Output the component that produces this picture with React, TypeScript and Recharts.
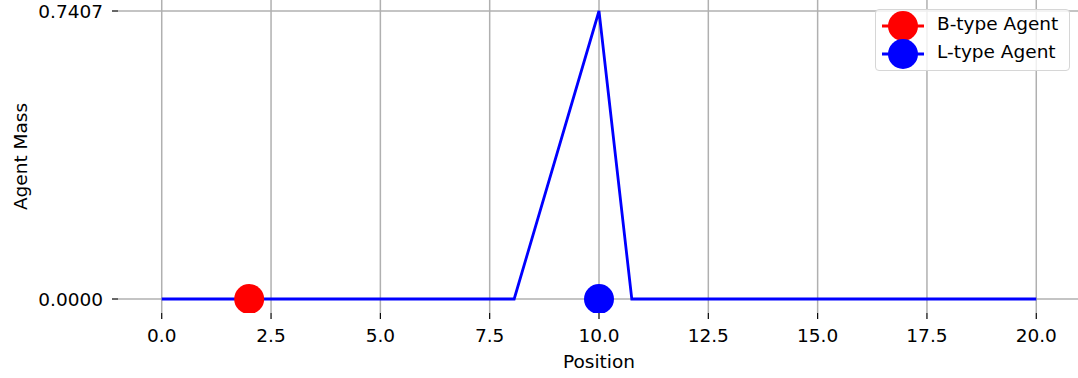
import * as React from "react";
import {
  ComposedChart,
  Line,
  Scatter,
  XAxis,
  YAxis,
  CartesianGrid,
  Legend,
} from "recharts";

// agent mass distribution along the position axis
const massPositions = [0, 8.06, 10, 10.75, 20];
const massValues = [0, 0, 0.7407, 0, 0];

// agent locations
const bAgentPosition = [2];
const bAgentMass = [0];
const lAgentPosition = [10];
const lAgentMass = [0];

const xTicks = [0, 2.5, 5, 7.5, 10, 12.5, 15, 17.5, 20];
const yTicks = [0, 0.7407];

const legendItems = [
  { name: "B-type Agent", color: "#ff0000" },
  { name: "L-type Agent", color: "#0000ff" },
];

const massData = massPositions.map((x, i) => ({ x, y: massValues[i] }));
const bData = bAgentPosition.map((x, i) => ({ x, y: bAgentMass[i] }));
const lData = lAgentPosition.map((x, i) => ({ x, y: lAgentMass[i] }));

const FONT = "'DejaVu Sans', sans-serif";
const tickStyle = { fill: "#000", fontSize: 18.5, fontFamily: FONT };

const Dot = (color: string) => (props: any) =>
  <circle cx={props.cx} cy={props.cy} r={15} fill={color} />;

const LegendBox = () => (
  <div
    style={{
      width: 193,
      height: 60,
      border: "1.5px solid #d6d6d6",
      borderRadius: 4,
      background: "rgba(255,255,255,0.8)",
      fontFamily: FONT,
      fontSize: 18.5,
      color: "#000",
      position: "relative",
    }}
  >
    {legendItems.map((item, i) => (
      <div
        key={item.name}
        style={{ position: "absolute", left: 0, top: 1 + i * 28, height: 28, width: 193 }}
      >
        <svg width={60} height={32} style={{ position: "absolute", left: 0, top: 0 }}>
          <line x1={6} x2={48} y1={15} y2={15} stroke={item.color} strokeWidth={2.8} />
          <circle cx={27} cy={15} r={15} fill={item.color} />
        </svg>
        <span style={{ position: "absolute", left: 61, top: 2, lineHeight: "22px" }}>
          {item.name}
        </span>
      </div>
    ))}
  </div>
);

export default function App() {
  return (
    <div
      style={{
        position: "absolute",
        left: 0,
        top: 0,
        width: 1078,
        height: 378,
        overflow: "hidden",
        background: "#fff",
        fontFamily: FONT,
      }}
    >
      <ComposedChart width={1080} height={378} margin={{ top: 0, right: 0, bottom: 0, left: 0 }}>
        <CartesianGrid
          stroke="#b0b0b0"
          strokeWidth={1.5}
          horizontalValues={yTicks}
          verticalValues={xTicks}
        />
        <XAxis
          type="number"
          dataKey="x"
          domain={[-1, 21]}
          ticks={xTicks}
          allowDataOverflow
          tickFormatter={(v: number) => v.toFixed(1)}
          height={65}
          axisLine={false}
          tickLine={{ stroke: "#000", strokeWidth: 1.2 }}
          tickSize={6}
          tickMargin={10}
          tick={tickStyle}
          label={{
            value: "Position",
            position: "insideBottom",
            offset: 10,
            style: { fill: "#000", fontSize: 18.5, fontFamily: FONT },
          }}
        />
        <YAxis
          type="number"
          dataKey="y"
          domain={[-0.036, 0.769]}
          ticks={yTicks}
          allowDataOverflow
          tickFormatter={(v: number) => v.toFixed(4)}
          width={118}
          axisLine={false}
          tickLine={{ stroke: "#000", strokeWidth: 1.2 }}
          tickSize={6}
          tickMargin={9}
          tick={tickStyle}
          label={{
            value: "Agent Mass",
            angle: -90,
            position: "insideLeft",
            offset: 20,
            style: { fill: "#000", fontSize: 18.5, fontFamily: FONT, textAnchor: "middle" },
          }}
        />
        <Legend
          layout="vertical"
          align="center"
          verticalAlign="middle"
          wrapperStyle={{ left: 875, top: 9, width: 196, height: 63 }}
          content={() => <LegendBox />}
        />
        <Line
          data={massData}
          dataKey="y"
          stroke="#0000ff"
          strokeWidth={2.8}
          dot={false}
          activeDot={false}
          isAnimationActive={false}
          legendType="none"
        />
        <Scatter
          data={bData}
          dataKey="y"
          fill="#ff0000"
          shape={Dot("#ff0000")}
          isAnimationActive={false}
        />
        <Scatter
          data={lData}
          dataKey="y"
          fill="#0000ff"
          shape={Dot("#0000ff")}
          isAnimationActive={false}
        />
      </ComposedChart>
    </div>
  );
}
